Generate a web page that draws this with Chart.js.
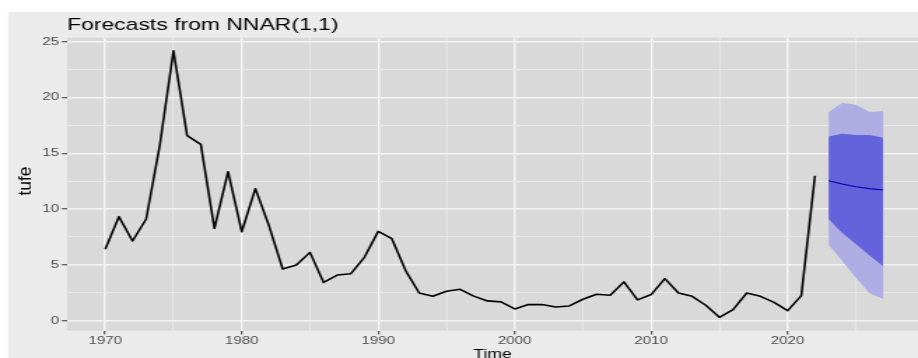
<!DOCTYPE html>
<html>
<head>
<meta charset="utf-8">
<script src="https://cdn.jsdelivr.net/npm/chart.js@4.4.1/dist/chart.umd.min.js"></script>
<style>
  html, body { margin: 0; padding: 0; background: #fff; overflow: hidden; }
  #wrap { width: 656px; height: 358px; transform: scaleX(1.399390); transform-origin: 0 0; }
  #c { display: block; }
</style>
</head>
<body>
<div id="wrap"><canvas id="c" width="656" height="358"></canvas></div>
<script>
// the source picture is stretched sideways, so the canvas is drawn narrow and widened by css
const SX = 918 / 656;
const FONT = '"Liberation Sans", Arial, Helvetica, sans-serif';

const years = [1970, 1971, 1972, 1973, 1974, 1975, 1976, 1977, 1978, 1979,
               1980, 1981, 1982, 1983, 1984, 1985, 1986, 1987, 1988, 1989,
               1990, 1991, 1992, 1993, 1994, 1995, 1996, 1997, 1998, 1999,
               2000, 2001, 2002, 2003, 2004, 2005, 2006, 2007, 2008, 2009,
               2010, 2011, 2012, 2013, 2014, 2015, 2016, 2017, 2018, 2019,
               2020, 2021, 2022];
const tufe = [6.4, 9.32, 7.14, 9.11, 15.74, 24.19, 16.58, 15.8, 8.27, 13.35,
              7.97, 11.83, 8.5, 4.63, 4.99, 6.12, 3.43, 4.09, 4.21, 5.7,
              8.0, 7.35, 4.51, 2.48, 2.18, 2.63, 2.81, 2.2, 1.77, 1.68,
              1.05, 1.44, 1.44, 1.23, 1.32, 1.92, 2.37, 2.28, 3.47, 1.86,
              2.34, 3.77, 2.48, 2.18, 1.38, 0.3, 0.99, 2.48, 2.18, 1.64,
              0.9, 2.24, 12.99];

const fcYears = [2023, 2024, 2025, 2026, 2027];
const fcMean  = [12.54, 12.25, 12.0, 11.83, 11.71];
const hi80    = [16.5, 16.75, 16.65, 16.65, 16.4];
const lo80    = [9.11, 7.86, 6.87, 5.85, 4.87];
const hi95    = [18.7, 19.5, 19.35, 18.7, 18.8];
const lo95    = [6.81, 5.35, 3.85, 2.45, 1.95];

const xTickLabels = [1970, 1980, 1990, 2000, 2010, 2020];
const yTickLabels = [0, 5, 10, 15, 20, 25];

const pts = (xs, ys) => xs.map((x, i) => ({ x, y: ys[i] }));

const isMajor = (c, list) => c.tick && list.includes(c.tick.value);

const backdrop = {
    id: 'backdrop',
    beforeDraw(chart) {
        const { ctx, width, height, chartArea: a } = chart;
        ctx.save();
        ctx.fillStyle = '#fff';
        ctx.fillRect(0, 0, width, height);
        ctx.fillStyle = '#EBEBEB';
        ctx.fillRect(8 / SX, 12, width, height);
        ctx.fillStyle = '#D9D9D9';
        ctx.fillRect(a.left, a.top, a.right - a.left, a.bottom - a.top);
        ctx.restore();
    }
};

// plot title and the y axis title (kept upright in proportion)
const labels = {
    id: 'labels',
    afterDraw(chart) {
        const { ctx, chartArea: a } = chart;
        ctx.save();
        ctx.fillStyle = '#000';
        ctx.font = '16.4px ' + FONT;
        ctx.textBaseline = 'alphabetic';
        ctx.textAlign = 'left';
        ctx.fillText('Forecasts from NNAR(1,1)', a.left, 29.5);

        ctx.translate(26.5 / SX, 181);
        ctx.scale(1 / SX, 1);
        ctx.rotate(-Math.PI / 2);
        ctx.font = '17.5px ' + FONT;
        ctx.textAlign = 'center';
        ctx.textBaseline = 'middle';
        ctx.fillText('tufe', 0, 0);
        ctx.restore();
    }
};

const band = (data, color) => ({
    data, borderWidth: 0, borderColor: 'transparent', pointRadius: 0,
    backgroundColor: color, fill: color ? '+1' : false
});

new Chart(document.getElementById('c'), {
    type: 'line',
    data: {
        datasets: [
            { label: 'tufe', data: pts(years, tufe), borderColor: '#000', borderWidth: 1.6,
              borderJoinStyle: 'round', pointRadius: 0, fill: false, tension: 0 },
            { label: 'forecast', data: pts(fcYears, fcMean), borderColor: '#0000B8', borderWidth: 1.2,
              pointRadius: 0, fill: false, tension: 0 },
            band(pts(fcYears, hi80), '#6363DB'),
            band(pts(fcYears, lo80), null),
            band(pts(fcYears, hi95), '#ADADE4'),
            band(pts(fcYears, lo95), null)
        ]
    },
    options: {
        responsive: false,
        devicePixelRatio: 1,
        animation: false,
        layout: { padding: { top: 37.7, left: 0, right: 0, bottom: 0 } },
        plugins: { legend: { display: false }, tooltip: { enabled: false } },
        scales: {
            x: {
                type: 'linear', min: 1967.2, max: 2029.55,
                border: { display: false },
                grid: {
                    color: c => isMajor(c, xTickLabels) ? '#F4F4F4' : '#E8E8E8',
                    lineWidth: c => isMajor(c, xTickLabels) ? 1.5 : 0.8,
                    tickColor: c => isMajor(c, xTickLabels) ? '#333' : 'rgba(0,0,0,0)',
                    tickLength: 3.7, tickWidth: 1
                },
                ticks: {
                    stepSize: 5, includeBounds: false, autoSkip: false, maxRotation: 0,
                    maxTicksLimit: 1000, padding: 0, color: '#4D4D4D',
                    font: { family: FONT, size: 10.8 },
                    callback: v => xTickLabels.includes(v) ? String(v) : ''
                },
                title: { display: true, text: 'Time', color: '#000', padding: 0,
                         font: { family: FONT, size: 12.5, lineHeight: 0.6 } },
                afterFit: s => { s.height = 27.3; }
            },
            y: {
                type: 'linear', min: -0.9, max: 25.36,
                border: { display: false },
                grid: {
                    color: c => isMajor(c, yTickLabels) ? '#F4F4F4' : '#E8E8E8',
                    lineWidth: c => isMajor(c, yTickLabels) ? 1.5 : 0.8,
                    tickColor: c => isMajor(c, yTickLabels) ? '#333' : 'rgba(0,0,0,0)',
                    tickLength: 3.7, tickWidth: 1
                },
                ticks: {
                    stepSize: 2.5, includeBounds: false, autoSkip: false,
                    maxTicksLimit: 1000, padding: 2, color: '#4D4D4D',
                    font: { family: FONT, size: 10.8 },
                    callback: v => yTickLabels.includes(v) ? String(v) : ''
                },
                afterFit: s => { s.width = 67 / SX; }
            }
        }
    },
    plugins: [backdrop, labels]
});
</script>
</body>
</html>
